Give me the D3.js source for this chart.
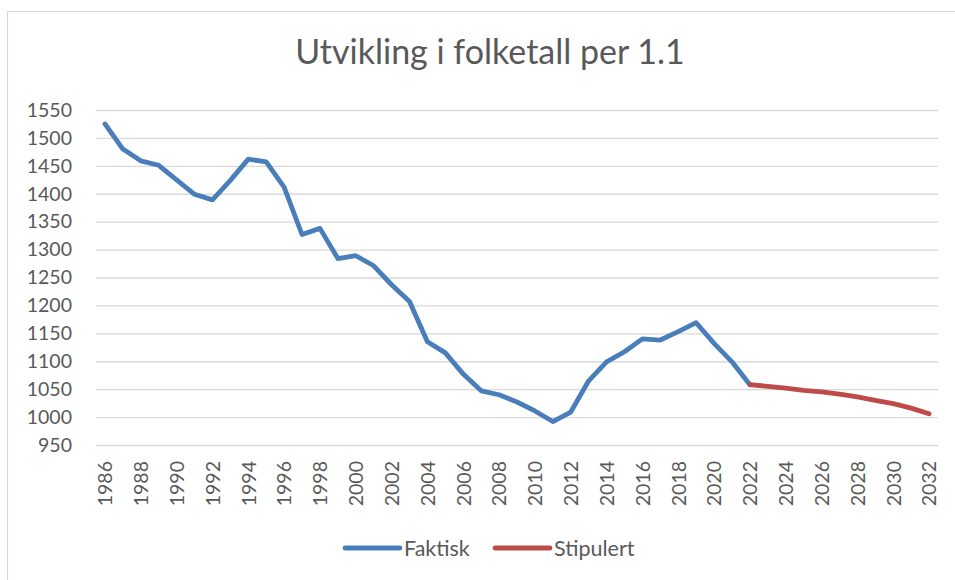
<!DOCTYPE html>
<html>
<head>
<meta charset="utf-8">
<script src="https://cdn.jsdelivr.net/npm/d3@7"></script>
<style>
  body { margin: 0; background: #fff; }
  text { font-family: Lato, "Open Sans", "Liberation Sans", sans-serif; fill: #595959; }
</style>
</head>
<body>
<div id="grafica"></div>
<script>
  const title = "Utvikling i folketall per 1.1";

  const years = [
    1986, 1987, 1988, 1989, 1990, 1991, 1992, 1993, 1994, 1995, 1996, 1997,
    1998, 1999, 2000, 2001, 2002, 2003, 2004, 2005, 2006, 2007, 2008, 2009,
    2010, 2011, 2012, 2013, 2014, 2015, 2016, 2017, 2018, 2019, 2020, 2021,
    2022, 2023, 2024, 2025, 2026, 2027, 2028, 2029, 2030, 2031, 2032
  ];

  // Faktisk 1986-2022
  const faktisk = [
    1525, 1480, 1459, 1451, 1425, 1399, 1389, 1424, 1462, 1457, 1412, 1327,
    1338, 1284, 1289, 1271, 1237, 1207, 1135, 1115, 1077, 1047, 1040, 1027,
    1011, 992, 1009, 1065, 1099, 1117, 1140, 1138, 1153, 1169, 1132, 1099,
    1058
  ];

  // Stipulert 2022-2032
  const stipulertYears = [2022, 2023, 2024, 2025, 2026, 2027, 2028, 2029, 2030, 2031, 2032];
  const stipulert = [1058, 1055, 1052, 1048, 1045, 1041, 1036, 1030, 1024, 1016, 1006];

  const yTicks = [950, 1000, 1050, 1100, 1150, 1200, 1250, 1300, 1350, 1400, 1450, 1500, 1550];
  const xTicks = years.filter((d, i) => i % 2 === 0);

  const series = [
    { nombre: "Faktisk", color: "#4A7EBB", x: years.slice(0, faktisk.length), y: faktisk },
    { nombre: "Stipulert", color: "#BE4B48", x: stipulertYears, y: stipulert }
  ];

  const width = 955, height = 580;
  const mLeft = 96, mRight = 938, mTop = 110, mBottom = 445;

  const svg = d3.select("#grafica")
    .append("svg")
    .attr("width", width)
    .attr("height", height);

  // ramme
  svg.append("rect")
    .attr("x", 7.5).attr("y", 11.5)
    .attr("width", 1000).attr("height", 700)
    .attr("fill", "#fff")
    .attr("stroke", "#d9d9d9")
    .attr("stroke-width", 1.2);

  const x = d3.scalePoint().domain(years).range([mLeft, mRight]).padding(0.5);
  const y = d3.scaleLinear().domain([950, 1550]).range([mBottom, mTop]);

  // tittel
  svg.append("text")
    .attr("x", 490).attr("y", 64)
    .attr("text-anchor", "middle")
    .style("font-size", "34px")
    .text(title);

  // rutenett + y-akse
  const yAxis = svg.append("g")
    .attr("transform", `translate(${mLeft},0)`)
    .call(d3.axisLeft(y).tickValues(yTicks).tickFormat(d3.format("d"))
      .tickSize(-(mRight - mLeft)).tickPadding(24));
  yAxis.select(".domain").remove();
  yAxis.selectAll(".tick line").attr("stroke", "#d9d9d9").attr("stroke-width", 1.3);
  yAxis.selectAll(".tick text")
    .style("font-size", "19.5px")
    .attr("fill", "#595959");

  // x-akse
  const xAxis = svg.append("g")
    .attr("transform", `translate(0,${mBottom})`)
    .call(d3.axisBottom(x).tickValues(xTicks).tickSize(0));
  xAxis.select(".domain").remove();
  xAxis.selectAll(".tick text")
    .style("font-size", "19.5px")
    .attr("fill", "#595959")
    .attr("text-anchor", "end")
    .attr("dy", "0.35em")
    .attr("transform", "translate(0,16) rotate(-90)")
    .attr("x", 0).attr("y", 0);

  // linjer
  const line = d3.line()
    .x(d => x(d[0]))
    .y(d => y(d[1]));

  svg.selectAll("path.serie")
    .data(series)
    .enter()
    .append("path")
    .attr("class", "serie")
    .attr("d", d => line(d.x.map((v, i) => [v, d.y[i]])))
    .attr("fill", "none")
    .attr("stroke", d => d.color)
    .attr("stroke-width", 4.8)
    .attr("stroke-linejoin", "round")
    .attr("stroke-linecap", "round");

  // forklaring
  const legend = svg.append("g").attr("transform", "translate(0,548)");
  const lx = [345, 495];
  const item = legend.selectAll("g")
    .data(series)
    .enter()
    .append("g")
    .attr("transform", (d, i) => `translate(${lx[i]},0)`);
  item.append("line")
    .attr("x1", 0).attr("x2", 55)
    .attr("stroke", d => d.color)
    .attr("stroke-width", 4.8)
    .attr("stroke-linecap", "round");
  item.append("text")
    .attr("x", 59)
    .attr("dy", "0.35em")
    .style("font-size", "21.5px")
    .text(d => d.nombre);
</script>
</body>
</html>
